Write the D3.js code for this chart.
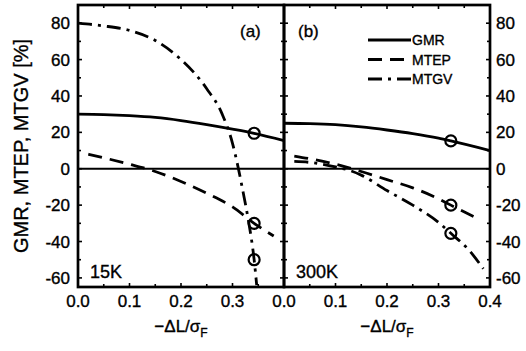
<!DOCTYPE html>
<html>
<head>
<meta charset="utf-8">
<script src="https://cdn.jsdelivr.net/npm/d3@7"></script>
<style>
  body { margin: 0; background: #fff; }
  svg { display: block; font-family: "Liberation Sans", Arial, sans-serif; }
  text { stroke: #000; stroke-width: 0.35px; }
</style>
</head>
<body>
<svg id="chart" width="526" height="351"></svg>
<script>
// axis ticks
const xMajor = [0, 0.1, 0.2, 0.3, 0.4];
const xMinor = [0.05, 0.15, 0.25, 0.35];
const yMajor = [-60, -40, -20, 0, 20, 40, 60, 80];
const yMinor = [-50, -30, -10, 10, 30, 50, 70];

// panel (a), 15K
const gmrA_x = [0, 0.05, 0.1, 0.15, 0.2, 0.25, 0.3, 0.342, 0.4];
const gmrA_y = [30, 29.8, 29.2, 28.2, 26.5, 24.3, 21.8, 19.5, 15.5];
const mtepA_x = [0.02, 0.05, 0.1, 0.15, 0.2, 0.25, 0.3, 0.342, 0.38];
const mtepA_y = [8, 6, 2.5, -1.5, -7, -13.5, -21, -30, -37];
const mtgvA_x = [0, 0.05, 0.1, 0.15, 0.2, 0.25, 0.28, 0.3, 0.31, 0.32, 0.33, 0.342, 0.347];
const mtgvA_y = [80, 78.5, 76, 70.5, 60, 44, 30, 14, 2, -12, -27, -50, -64];
const markA_x = 0.342;
const markA_y = [19.5, -30, -50];

// panel (b), 300K
const gmrB_x = [0, 0.05, 0.1, 0.15, 0.2, 0.25, 0.3, 0.324, 0.4];
const gmrB_y = [25, 24.8, 24.2, 23, 21.3, 19.3, 16.8, 15.3, 10];
const mtepB_x = [0.02, 0.05, 0.1, 0.15, 0.2, 0.25, 0.3, 0.324, 0.37];
const mtepB_y = [7, 5.5, 2.5, -1.5, -6, -10.5, -16.5, -20, -26.5];
const mtgvB_x = [0.02, 0.05, 0.1, 0.128, 0.15, 0.2, 0.25, 0.3, 0.324, 0.36, 0.387];
const mtgvB_y = [4, 3.5, 1, -1, -3.5, -12, -20, -29.5, -35.5, -45, -55];
const markB_x = 0.324;
const markB_y = [15.3, -20, -35.5];

const legendNames = ["GMR", "MTEP", "MTGV"];

const svg = d3.select("#chart");
const yTop = 5, yBottom = 287;
const y = d3.scaleLinear().domain([-65, 90]).range([yBottom, yTop]);

const dashes = ["none", "14,8", "14,6,3,6"];
const zip = (xs, ys) => xs.map((v, i) => [v, ys[i]]);

function panel(x0, x1, series, marks, markX, tag, temp, first) {
  const x = d3.scaleLinear().domain([0, 0.4]).range([x0, x1]);
  const g = svg.append("g");
  const line = d3.line().x(d => x(d[0])).y(d => y(d[1])).curve(d3.curveMonotoneX);

  // zero line
  g.append("line").attr("x1", x0).attr("x2", x1)
    .attr("y1", y(0)).attr("y2", y(0))
    .attr("stroke", "#000").attr("stroke-width", 2.2);

  series.forEach((s, i) => {
    g.append("path").datum(s)
      .attr("fill", "none").attr("stroke", "#000")
      .attr("stroke-width", 2.8)
      .attr("stroke-dasharray", dashes[i])
      .attr("d", line);
  });

  g.selectAll("circle.mk").data(marks).join("circle")
    .attr("cx", x(markX)).attr("cy", d => y(d)).attr("r", 5.5)
    .attr("fill", "none").attr("stroke", "#000").attr("stroke-width", 2.2);

  // ticks, all pointing inward
  xMajor.concat(xMinor).forEach(t => {
    const len = xMajor.includes(t) ? 4 : 3;
    g.append("line").attr("x1", x(t)).attr("x2", x(t))
      .attr("y1", yBottom).attr("y2", yBottom - len)
      .attr("stroke", "#000").attr("stroke-width", 1.6);
    g.append("line").attr("x1", x(t)).attr("x2", x(t))
      .attr("y1", yTop).attr("y2", yTop + len)
      .attr("stroke", "#000").attr("stroke-width", 1.6);
  });
  yMajor.concat(yMinor).forEach(t => {
    const len = yMajor.includes(t) ? 4 : 3;
    g.append("line").attr("x1", x0).attr("x2", x0 + len)
      .attr("y1", y(t)).attr("y2", y(t))
      .attr("stroke", "#000").attr("stroke-width", 1.6);
    g.append("line").attr("x1", x1).attr("x2", x1 - len)
      .attr("y1", y(t)).attr("y2", y(t))
      .attr("stroke", "#000").attr("stroke-width", 1.6);
  });

  // frame
  g.append("rect").attr("x", x0).attr("y", yTop)
    .attr("width", x1 - x0).attr("height", yBottom - yTop)
    .attr("fill", "none").attr("stroke", "#000").attr("stroke-width", 2.7);

  // x tick labels
  const labs = first ? xMajor.slice(0, 4) : xMajor;
  g.selectAll("text.xt").data(labs).join("text")
    .attr("x", d => x(d)).attr("y", 307)
    .attr("text-anchor", "middle").attr("font-size", 17)
    .text(d => d3.format(".1f")(d));

  // x axis title
  const xt = g.append("text").attr("x", (x0 + x1) / 2).attr("y", 332)
    .attr("text-anchor", "middle").attr("font-size", 17);
  xt.append("tspan").text("\u2212\u0394L/\u03c3");
  xt.append("tspan").attr("font-size", 12).attr("dy", 5).text("F");

  g.append("text").attr("x", first ? x1 - 44 : x0 + 14).attr("y", 37)
    .attr("font-size", 17).text(tag);
  g.append("text").attr("x", x0 + 12).attr("y", 278)
    .attr("font-size", 18).text(temp);
  return x;
}

panel(78, 284,
  [zip(gmrA_x, gmrA_y), zip(mtepA_x, mtepA_y), zip(mtgvA_x, mtgvA_y)],
  markA_y, markA_x, "(a)", "15K", true);
panel(284, 490,
  [zip(gmrB_x, gmrB_y), zip(mtepB_x, mtepB_y), zip(mtgvB_x, mtgvB_y)],
  markB_y, markB_x, "(b)", "300K", false);

// y tick labels, both sides
svg.selectAll("text.yl").data(yMajor).join("text")
  .attr("x", 70).attr("y", d => y(d) + 6)
  .attr("text-anchor", "end").attr("font-size", 17)
  .text(d => d);
svg.selectAll("text.yr").data(yMajor).join("text")
  .attr("x", 496).attr("y", d => y(d) + 6)
  .attr("font-size", 17)
  .text(d => d);

// y axis title
svg.append("text")
  .attr("transform", `translate(28,${(yTop + yBottom) / 2}) rotate(-90)`)
  .attr("text-anchor", "middle").attr("font-size", 20)
  .text("GMR, MTEP, MTGV [%]");

// legend
const legend = svg.append("g");
legendNames.forEach((n, i) => {
  const ly = 40 + i * 19.5;
  legend.append("line").attr("x1", 368).attr("x2", 411)
    .attr("y1", ly).attr("y2", ly)
    .attr("stroke", "#000").attr("stroke-width", 2.8)
    .attr("stroke-dasharray", dashes[i]);
  legend.append("text").attr("x", 412).attr("y", ly + 5)
    .attr("font-size", 14).text(n);
});
</script>
</body>
</html>
